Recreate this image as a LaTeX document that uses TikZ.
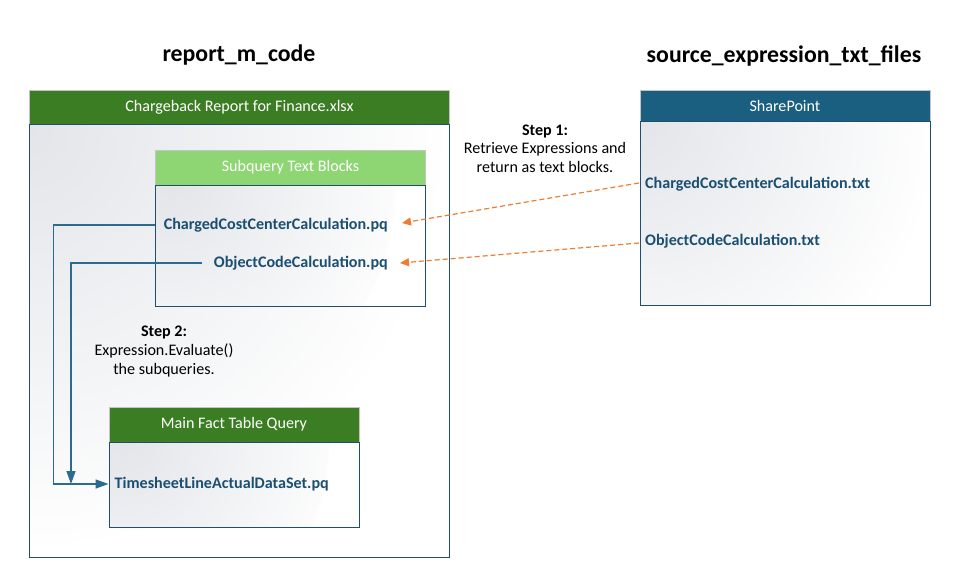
\documentclass[tikz,border=0pt]{standalone}
\usepackage{fontspec}
\setmainfont{Carlito}
\usetikzlibrary{arrows.meta,calc}
\definecolor{hdrgreen}{HTML}{3B7D23}
\definecolor{litegreen}{HTML}{8ED673}
\definecolor{spblue}{HTML}{1A5E80}
\definecolor{bordblue}{HTML}{1F4E6E}
\definecolor{txtblue}{HTML}{1B4F72}
\definecolor{linkblue}{HTML}{2D6A90}
\definecolor{orng}{HTML}{ED7D31}
\definecolor{hdrgray}{HTML}{C4C4C4}
\definecolor{shadegray}{HTML}{E3E5E9}
\tikzset{
  hdr/.style={draw=hdrgray, line width=0.9pt, text=white, inner sep=0pt, anchor=north west,
    font=\fontsize{16.1}{19}\selectfont},
  bodybox/.style={draw=bordblue, line width=1.1pt, inner sep=0pt, anchor=north west, fill=white,
    path picture={\shade[inner color=shadegray, outer color=white]
      (path picture bounding box.north west) circle (#1);}},
  item/.style={inner sep=0pt, text=txtblue, font=\bfseries\fontsize{16.1}{19}\selectfont},
  steptxt/.style={align=center, inner sep=0pt, font=\fontsize{16.1}{18.7}\selectfont},
  ttl/.style={inner sep=0pt, font=\bfseries\fontsize{23.8}{28}\selectfont},
  link/.style={draw=linkblue, line width=1.4pt},
  fetch/.style={draw=orng, line width=1.2pt, dash pattern=on 5pt off 3pt,
    -{Triangle[length=9pt,width=8pt]}}
}
\begin{document}
\begin{tikzpicture}[x=1pt,y=-1pt]
\useasboundingbox (0,0) rectangle (962,587);
% titles
\node[ttl] (t1) at (239,55) {report\_m\_code};
\node[ttl] (t2) at (784,56) {source\_expression\_txt\_files};
% left container
\node[hdr, fill=hdrgreen, minimum width=420pt, minimum height=34pt] (rephdr) at (29,89.5) {Chargeback Report for Finance.xlsx};
\node[bodybox=420pt, minimum width=420pt, minimum height=433.5pt] (repbody) at (29,123.5) {};
% subquery box
\node[hdr, fill=litegreen, minimum width=270pt, minimum height=35pt] (subhdr) at (155,149.5) {Subquery Text Blocks};
\node[bodybox=240pt, minimum width=270pt, minimum height=121pt] (subbody) at (155,184.5) {};
% main fact table box
\node[hdr, fill=hdrgreen, minimum width=250pt, minimum height=35pt] (mainhdr) at (108.5,406.5) {Main Fact Table Query};
\node[bodybox=220pt, minimum width=250pt, minimum height=85.5pt] (mainbody) at (108.5,441.5) {};
% sharepoint box
\node[hdr, fill=spblue, minimum width=290pt, minimum height=31.5pt] (sphdr) at (639.5,89.5) {SharePoint};
\node[bodybox=300pt, minimum width=290pt, minimum height=184pt] (spbody) at (639.5,121) {};
% items
\node[item, anchor=east] (cc) at (388,225) {ChargedCostCenterCalculation.pq};
\node[item, anchor=east] (oc) at (388,263) {ObjectCodeCalculation.pq};
\node[item, anchor=west] (ts) at (114.5,484) {TimesheetLineActualDataSet.pq};
\node[item, anchor=west] (sp1) at (645,184) {ChargedCostCenterCalculation.txt};
\node[item, anchor=west] (sp2) at (645,241) {ObjectCodeCalculation.txt};
% step labels
\node[steptxt] (s1) at (545,148.5) {\textbf{Step 1:}\\Retrieve Expressions and\\return as text blocks.};
\node[steptxt] (s2) at (164,351.5) {\textbf{Step 2:}\\Expression.Evaluate()\\the subqueries.};
% connectors
\coordinate (j1) at (53.5,0);
\coordinate (j2) at (71,0);
\draw[link, -{Triangle[length=13pt,width=9pt]}] (cc.west -| subbody.west) -- (cc.west -| j1) -- (ts.west -| j1) -- (ts.west -| mainbody.west);
\draw[link, -{Triangle[length=13pt,width=9pt]}] ([xshift=-12pt]oc.west) -- (oc.west -| j2) -- (ts.west -| j2);
\draw[fetch] ([xshift=-6pt,yshift=1pt]sp1.west) -- ([xshift=14pt,yshift=2pt]cc.east);
\draw[fetch] ([xshift=-6pt,yshift=-2pt]sp2.west) -- ([xshift=12pt]oc.east);
\end{tikzpicture}
\end{document}
